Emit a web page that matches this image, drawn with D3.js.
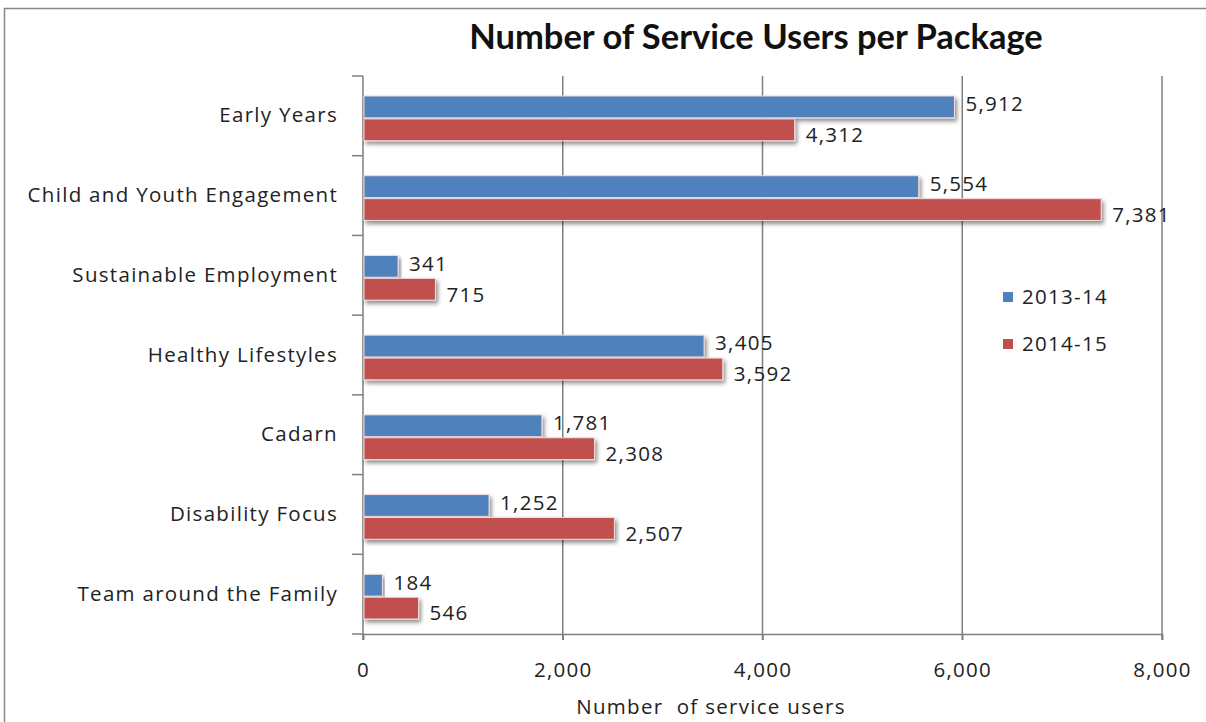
<!DOCTYPE html>
<html><head><meta charset="utf-8">
<script src="https://cdn.jsdelivr.net/npm/d3@7"></script>
<style>body{margin:0;background:#fff}svg{display:block}</style>
</head><body>
<script>
const categories = ["Early Years","Child and Youth Engagement","Sustainable Employment","Healthy Lifestyles","Cadarn","Disability Focus","Team around the Family"];
const seriesNames = ["2013-14","2014-15"];
const values2013 = [5912,5554,341,3405,1781,1252,184];
const values2014 = [4312,7381,715,3592,2308,2507,546];
const xTicks = [0,2000,4000,6000,8000];
const colors = ["#4f81bd","#c0504d"];

const W=1206,H=722;
const svg=d3.select("body").append("svg").attr("width",W).attr("height",H);
const font="'Open Sans', 'DejaVu Sans', sans-serif";
const fs=20.5, ls=1.3;
const defs=svg.append("defs");
const f=defs.append("filter").attr("id","sh").attr("x","-5%").attr("y","-30%").attr("width","115%").attr("height","190%");
f.append("feDropShadow").attr("dx",2).attr("dy",3).attr("stdDeviation",2).attr("flood-color","#000").attr("flood-opacity",0.45);

svg.append("rect").attr("x",4.5).attr("y",8.5).attr("width",1210).attr("height",730).attr("fill","none").attr("stroke","#888").attr("stroke-width",1.5);

const x=d3.scaleLinear().domain([0,8000]).range([363,1162]);
const y=d3.scaleBand().domain(categories).range([76,634]);
const inner=d3.scaleBand().domain(seriesNames).range([20,y.bandwidth()-15]).paddingInner(0.05);

function styleText(sel){sel.attr("font-family",font).attr("font-size",fs).attr("letter-spacing",ls).attr("fill","#222");}

// gridlines
svg.append("g").selectAll("line").data(xTicks.slice(1)).join("line")
 .attr("x1",d=>x(d)).attr("x2",d=>x(d)).attr("y1",76).attr("y2",640)
 .attr("stroke","#7f7f7f").attr("stroke-width",1.5);

// x axis
const xa=svg.append("g").attr("transform","translate(0,634)")
 .call(d3.axisBottom(x).tickValues(xTicks).tickFormat(d3.format(",")).tickSize(6).tickPadding(22));
xa.select(".domain").attr("stroke","#7f7f7f").attr("stroke-width",1.5);
xa.selectAll(".tick line").attr("stroke","#7f7f7f").attr("stroke-width",1.5);
xa.selectAll("text").call(styleText);

// y axis
const ya=svg.append("g").attr("transform","translate(363,0)")
 .call(d3.axisLeft(y).tickSize(0).tickPadding(25));
ya.select(".domain").attr("stroke","#7f7f7f").attr("stroke-width",1.5).attr("d","M0,76V640");
ya.selectAll("text").call(styleText);
svg.append("g").selectAll("line").data(d3.range(categories.length+1)).join("line")
 .attr("x1",352).attr("x2",363)
 .attr("y1",i=>76+i*y.step()).attr("y2",i=>76+i*y.step())
 .attr("stroke","#7f7f7f").attr("stroke-width",1.5);

const data=categories.map((c,i)=>[{c,s:seriesNames[0],v:values2013[i],k:0},{c,s:seriesNames[1],v:values2014[i],k:1}]).flat();

const bars=svg.append("g");
bars.selectAll("rect").data(data).join("rect")
 .attr("x",x(0)+1).attr("y",d=>y(d.c)+inner(d.s))
 .attr("width",d=>x(d.v)-x(0)).attr("height",inner.bandwidth())
 .attr("fill",d=>colors[d.k]).attr("stroke","#f2dcdb").attr("stroke-width",1)
 .attr("filter","url(#sh)");

svg.append("g").selectAll("text").data(data).join("text")
 .attr("x",d=>x(d.v)+12).attr("y",d=>y(d.c)+inner(d.s)+inner.bandwidth()/2+(d.k?5:-3))
 .attr("dy","0.36em").call(styleText)
 .text(d=>d3.format(",")(d.v));

// legend
const lg=svg.append("g");
seriesNames.forEach((s,i)=>{
 lg.append("rect").attr("x",1003).attr("y",292+i*47).attr("width",10).attr("height",10).attr("fill",colors[i]);
 lg.append("text").attr("x",1022).attr("y",297+i*47).attr("dy","0.36em").call(styleText).text(s);
});

svg.append("text").attr("x",756).attr("y",49).attr("text-anchor","middle")
 .attr("font-family","Lato,'Open Sans',sans-serif").attr("font-weight","bold").attr("font-size",34.5).attr("fill","#111")
 .text("Number of Service Users per Package");
svg.append("text").attr("x",711).attr("y",714).attr("text-anchor","middle")
 .call(styleText).attr("xml:space","preserve")
 .text("Number  of service users");
</script>
</body></html>
